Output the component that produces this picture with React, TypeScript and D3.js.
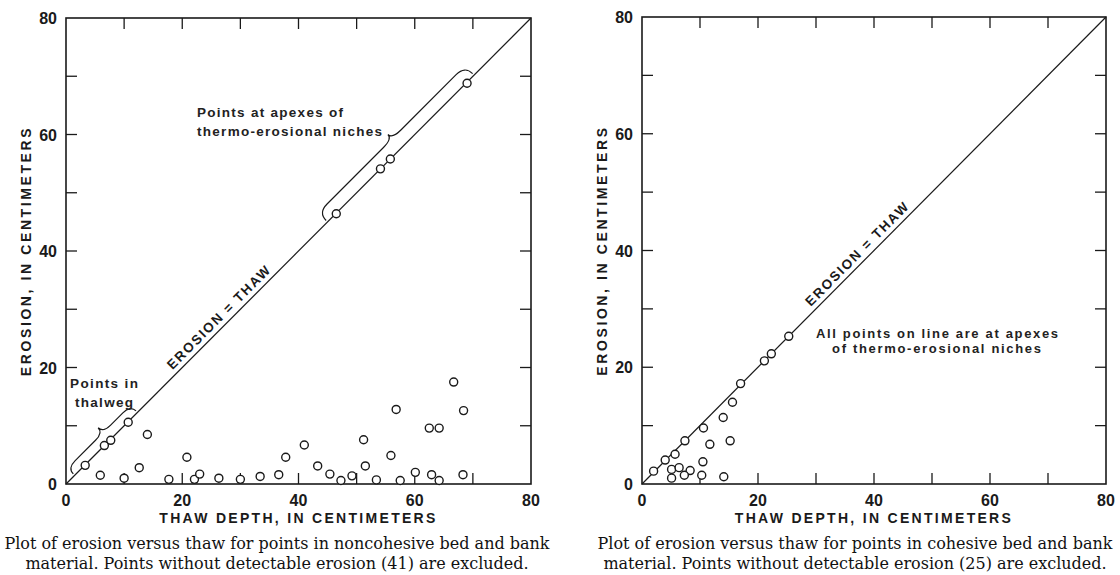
import * as d3 from 'd3';

const tickLabels = [0, 20, 40, 60, 80];
const innerTicks = [10, 20, 30, 40, 50, 60, 70];

// noncohesive bed and bank material (left panel)
const thalwegThaw = [3.3, 6.6, 7.7, 10.7];
const thalwegErosion = [3.2, 6.6, 7.5, 10.6];
const nicheThawLeft = [46.5, 54.1, 55.8, 69.0];
const nicheErosionLeft = [46.4, 54.1, 55.8, 68.8];
const otherThawLeft = [
  5.9, 10.0, 12.6, 14.0, 17.7, 20.8, 22.1, 23.0, 26.3, 30.0, 33.4, 36.6, 37.8, 41.0, 43.3, 45.4,
  47.3, 49.2, 51.2, 51.5, 53.4, 55.9, 56.8, 57.5, 60.1, 62.5, 62.9, 64.2, 64.2, 66.7, 68.3, 68.4,
];
const otherErosionLeft = [
  1.5, 1.0, 2.8, 8.5, 0.8, 4.6, 0.8, 1.7, 1.0, 0.8, 1.3, 1.6, 4.6, 6.7, 3.1, 1.7,
  0.6, 1.4, 7.6, 3.1, 0.7, 4.9, 12.8, 0.6, 2.0, 9.6, 1.6, 9.6, 0.6, 17.5, 1.6, 12.6,
];

// cohesive bed and bank material (right panel)
const nicheThawRight = [2.0, 4.0, 5.7, 7.4, 10.6, 17.0, 21.1, 22.3, 25.3];
const nicheErosionRight = [2.2, 4.1, 5.1, 7.4, 9.6, 17.2, 21.1, 22.3, 25.3];
const otherThawRight = [15.6, 14.0, 11.7, 15.2, 10.5, 5.1, 6.4, 8.3, 5.1, 7.3, 10.3, 14.1];
const otherErosionRight = [14.0, 11.4, 6.8, 7.4, 3.8, 2.5, 2.8, 2.3, 1.0, 1.5, 1.5, 1.25];

const leftCaption = [
  'Plot of erosion versus thaw for points in noncohesive bed and bank',
  'material. Points without detectable erosion (41) are excluded.',
];
const rightCaption = [
  'Plot of erosion versus thaw for points in cohesive bed and bank',
  'material. Points without detectable erosion (25) are excluded.',
];

const SANS = '"Liberation Sans", Arial, sans-serif';
const SERIF = '"DejaVu Serif", serif';
const INK = '#1a1a1a';

type Pt = [number, number];

function zip(xs: number[], ys: number[]): Pt[] {
  return xs.map((v, i) => [v, ys[i]]);
}

// one line of hand-lettered annotation, stretched to the width it has in the figure
function Note({ x, y, w, children, size = 13.5 }: any) {
  return (
    <text x={x} y={y} textLength={w} lengthAdjust="spacing" fontFamily={SANS} fontWeight="bold" fontSize={size} fill="#222">
      {children}
    </text>
  );
}

function Panel({ x0, x1, y0, y1, children, points, rotLabelAt, caption, captionX }: any) {
  const x = d3.scaleLinear().domain([0, 80]).range([x0, x1]);
  const y = d3.scaleLinear().domain([0, 80]).range([y0, y1]);
  const tl = 11;

  const dx = x(1) - x(0);
  const dy = y(1) - y(0);
  const len = Math.hypot(dx, dy);
  const nx = dy / len;
  const ny = -dx / len;
  const angle = (Math.atan2(dy, dx) * 180) / Math.PI;
  const P = (t: number, o: number) => [x(t) + nx * o, y(t) + ny * o];

  const brace = (t0: number, t1: number, tc: number, d: number, cusp: number, del: number) => {
    const p = d3.path();
    const a = P(t0, 2), b = P(t0, d), c = P(t0 + del, d);
    p.moveTo(a[0], a[1]);
    p.quadraticCurveTo(b[0], b[1], c[0], c[1]);
    const e = P(tc - del, d), f = P(tc, d), g = P(tc, cusp), h = P(tc + del, d);
    p.lineTo(e[0], e[1]);
    p.quadraticCurveTo(f[0], f[1], g[0], g[1]);
    p.quadraticCurveTo(f[0], f[1], h[0], h[1]);
    const i = P(t1 - del, d), j = P(t1, d), k = P(t1, 2);
    p.lineTo(i[0], i[1]);
    p.quadraticCurveTo(j[0], j[1], k[0], k[1]);
    return p.toString();
  };

  const lp = P(rotLabelAt, 5);
  const midX = (x0 + x1) / 2;
  const midY = (y0 + y1) / 2;

  return (
    <g>
      {innerTicks.map((t) => (
        <g key={t} stroke={INK} strokeWidth={1.3}>
          <line x1={x(t)} x2={x(t)} y1={y0} y2={y0 - tl} />
          <line x1={x(t)} x2={x(t)} y1={y1} y2={y1 + tl} />
          <line x1={x0} x2={x0 + tl} y1={y(t)} y2={y(t)} />
          <line x1={x1} x2={x1 - tl} y1={y(t)} y2={y(t)} />
        </g>
      ))}
      <rect x={x0} y={y1} width={x1 - x0} height={y0 - y1} fill="none" stroke={INK} strokeWidth={1.6} />
      <line x1={x(0)} y1={y(0)} x2={x(80)} y2={y(80)} stroke={INK} strokeWidth={1.2} />

      {tickLabels.map((t) => (
        <text key={'x' + t} x={x(t)} y={y0 + 22} textAnchor="middle" fontFamily={SANS} fontWeight="bold" fontSize={16} fill={INK}>
          {t}
        </text>
      ))}
      {tickLabels.map((t) => (
        <text key={'y' + t} x={x0 - 9} y={y(t) + 6} textAnchor="end" fontFamily={SANS} fontWeight="bold" fontSize={16} fill={INK}>
          {t}
        </text>
      ))}

      <text x={midX} y={y0 + 39} textAnchor="middle" fontFamily={SANS} fontWeight="bold" fontSize={14} letterSpacing={2.3} fill={INK}>
        THAW DEPTH, IN CENTIMETERS
      </text>
      <text
        transform={`translate(${x0 - 35},${midY}) rotate(-90)`}
        textAnchor="middle"
        fontFamily={SANS}
        fontWeight="bold"
        fontSize={14}
        letterSpacing={2.6}
        fill={INK}
      >
        EROSION, IN CENTIMETERS
      </text>

      <text
        transform={`translate(${lp[0]},${lp[1]}) rotate(${angle})`}
        textAnchor="middle"
        fontFamily={SANS}
        fontWeight="bold"
        fontSize={13.5}
        letterSpacing={1.7}
        fill={INK}
      >
        EROSION = THAW
      </text>

      {children && children({ x, y, brace })}

      {points.map((d: Pt, i: number) => (
        <circle key={i} cx={x(d[0])} cy={y(d[1])} r={4} fill="#fff" stroke={INK} strokeWidth={1.4} />
      ))}

      {caption.map((s: string, i: number) => (
        <text key={i} x={captionX} y={549 + i * 20} textAnchor="middle" fontFamily={SERIF} fontSize={16} fill="#111">
          {s}
        </text>
      ))}
    </g>
  );
}

export default function App() {
  const leftPoints = [
    ...zip(thalwegThaw, thalwegErosion),
    ...zip(nicheThawLeft, nicheErosionLeft),
    ...zip(otherThawLeft, otherErosionLeft),
  ];
  const rightPoints = [...zip(nicheThawRight, nicheErosionRight), ...zip(otherThawRight, otherErosionRight)];

  return (
    <div style={{ position: 'absolute', left: 0, top: 0 }}>
      <svg width={1120} height={575} style={{ display: 'block', background: '#fff' }}>
        <Panel x0={66} x1={531} y0={484} y1={18} points={leftPoints} rotLabelAt={27.5} caption={leftCaption} captionX={277}>
          {({ brace }: any) => (
            <g>
              <path d={brace(1.5, 12.3, 7.6, 10, 17, 1.3)} fill="none" stroke={INK} strokeWidth={1.2} />
              <path d={brace(45, 70.2, 57.7, 13, 19, 1.5)} fill="none" stroke={INK} strokeWidth={1.2} />
              <Note x={70} y={388} w={68}>Points in</Note>
              <Note x={75} y={407} w={58}>thalweg</Note>
              <Note x={197} y={117} w={146}>Points at apexes of</Note>
              <Note x={197} y={136} w={185}>thermo-erosional niches</Note>
            </g>
          )}
        </Panel>
        <Panel x0={642} x1={1106} y0={484} y1={17} points={rightPoints} rotLabelAt={38.3} caption={rightCaption} captionX={855}>
          {() => (
            <g>
              <Note x={816} y={338} w={242} size={13}>All points on line are at apexes</Note>
              <Note x={832} y={353} w={209} size={13}>of thermo-erosional niches</Note>
            </g>
          )}
        </Panel>
      </svg>
    </div>
  );
}
